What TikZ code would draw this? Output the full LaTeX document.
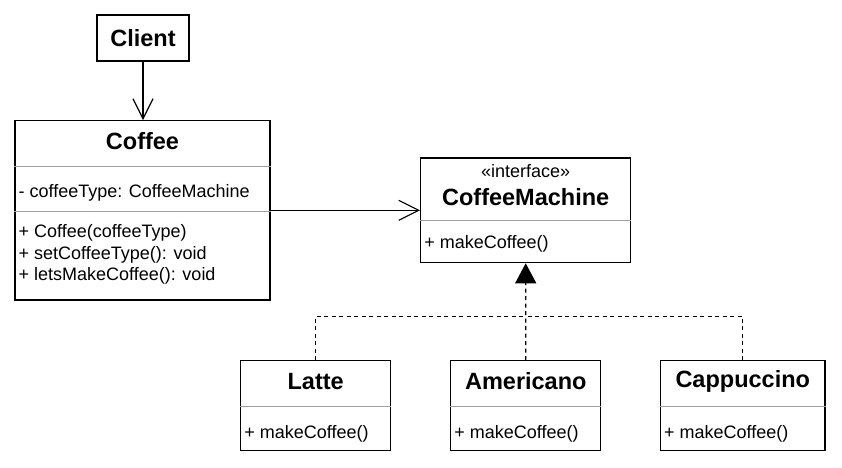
\documentclass[tikz,border=0pt]{standalone}
\usepackage{fontspec}
\setmainfont{Liberation Sans}
\usetikzlibrary{arrows.meta,positioning,calc}

\begin{document}
\begin{tikzpicture}[x=1pt,y=-1pt]

      \tikzset{classbox/.style={draw, line width=1.2pt, inner sep=0pt},
               title/.style={font=\fontsize{23.5}{27}\selectfont\bfseries, inner sep=0pt},
               stereo/.style={font=\fontsize{18}{21.5}\selectfont, inner sep=0pt},
               member/.style={font=\fontsize{18}{21.5}\selectfont, anchor=west, align=left, inner sep=0pt},
               sepline/.style={draw=gray!75, line width=1pt},
               assoc/.style={-{Straight Barb[length=20pt,width=20pt]}, line width=1.2pt},
               realize/.style={dash pattern=on 4pt off 3.5pt, line width=1.2pt}}

      \useasboundingbox (0,0) rectangle (842,467);

%% Client
      	\node[classbox, title, minimum width=92, minimum height=46] (client) at (143,38) {Client};

%% Coffee
      	\node[classbox, minimum width=255, minimum height=179.3] (coffee) at (142.5,210.3) {};
      	\node[title] (coffeeName) at ($(coffee.north)+(0,21)$) {Coffee};
      	\draw[sepline] ($(coffee.north west)+(0,46.5)$) -- ($(coffee.north east)+(0,46.5)$);
      	\node[member] (coffeeAttr) at ($(coffee.north west)+(4,73)$) {- coffeeType: CoffeeMachine};
      	\draw[sepline] ($(coffee.north west)+(0,91.5)$) -- ($(coffee.north east)+(0,91.5)$);
      	\node[member] (coffeeOps) at ($(coffee.north west)+(4,134.5)$) {+ Coffee(coffeeType)\\+ setCoffeeType(): void\\+ letsMakeCoffee(): void};

%% CoffeeMachine
      	\node[classbox, minimum width=210, minimum height=104.7] (machine) at (525.7,210.3) {};
      	\node[stereo] (machineStereo) at ($(machine.north)+(0,14)$) {«interface»};
      	\node[title] (machineName) at ($(machine.north)+(0,40)$) {CoffeeMachine};
      	\draw[sepline] ($(machine.north west)+(0,63)$) -- ($(machine.north east)+(0,63)$);
      	\node[member] (machineOps) at ($(machine.north west)+(4,86)$) {+ makeCoffee()};

%% Latte
      	\node[classbox, minimum width=150, minimum height=90] (latte) at (315.7,405.7) {};
      	\node[title] (latteName) at ($(latte.north)+(0,21)$) {Latte};
      	\draw[sepline] ($(latte.north west)+(0,46.6)$) -- ($(latte.north east)+(0,46.6)$);
      	\node[member] (latteOps) at ($(latte.north west)+(4,74)$) {+ makeCoffee()};

%% Americano
      	\node[classbox, minimum width=150, minimum height=90] (americano) at (525.8,405.7) {};
      	\node[title] (americanoName) at ($(americano.north)+(0,21)$) {Americano};
      	\draw[sepline] ($(americano.north west)+(0,46.6)$) -- ($(americano.north east)+(0,46.6)$);
      	\node[member] (americanoOps) at ($(americano.north west)+(4,74)$) {+ makeCoffee()};

%% Cappuccino
      	\node[classbox, minimum width=164.5, minimum height=90] (cappuccino) at (742.75,405.7) {};
      	\node[title] (cappuccinoName) at ($(cappuccino.north)+(0,21)$) {Cappuccino};
      	\draw[sepline] ($(cappuccino.north west)+(0,46.6)$) -- ($(cappuccino.north east)+(0,46.6)$);
      	\node[member] (cappuccinoOps) at ($(cappuccino.north west)+(4,74)$) {+ makeCoffee()};

%Connectors
      	\coordinate (junction) at ($(machine.south)+(0,53)$);
		\draw[assoc] (client.south) -- (client.south |- coffee.north);
		\draw[assoc] (coffee.east) -- (machine.west);
		\draw[realize, -{Triangle[length=20pt,width=21pt]}] (americano.north) -- (junction) -- (machine.south);
		\draw[realize] (latte.north) |- (junction);
		\draw[realize] (cappuccino.north) |- (junction);

\end{tikzpicture}
\end{document}
